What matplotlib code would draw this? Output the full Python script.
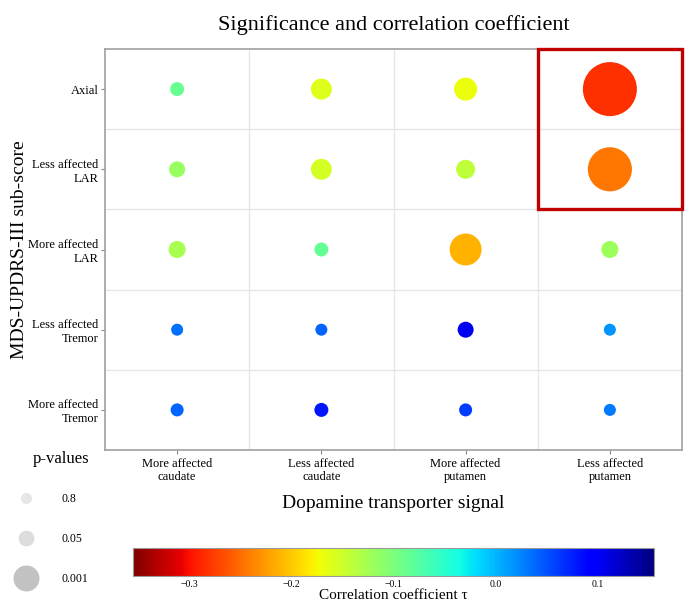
import numpy as np
import matplotlib
matplotlib.use('Agg')
import matplotlib.pyplot as plt
from matplotlib.patches import Rectangle
from matplotlib.lines import Line2D

plt.rcParams['font.family'] = ['Liberation Serif', 'DejaVu Serif']

# ---------------- data ----------------
x_labels = ['More affected\ncaudate', 'Less affected\ncaudate',
            'More affected\nputamen', 'Less affected\nputamen']
y_labels = ['Axial', 'Less affected\nLAR', 'More affected\nLAR',
            'Less affected\nTremor', 'More affected\nTremor']

# correlation coefficient tau (rows follow y_labels, columns follow x_labels)
tau_axial        = [-0.088, -0.160, -0.169, -0.282]
tau_less_lar     = [-0.117, -0.154, -0.141, -0.244]
tau_more_lar     = [-0.126, -0.086, -0.212, -0.120]
tau_less_tremor  = [0.034, 0.041, 0.104, 0.016]
tau_more_tremor  = [0.041, 0.081, 0.061, 0.031]

# p-values
p_axial        = [0.126, 0.0053, 0.0026, 3.3e-6]
p_less_lar     = [0.044, 0.0055, 0.0115, 1.6e-5]
p_more_lar     = [0.027, 0.126, 2.0e-4, 0.027]
p_less_tremor  = [0.42, 0.42, 0.044, 0.42]
p_more_tremor  = [0.22, 0.126, 0.22, 0.42]

legend_p = [0.8, 0.05, 0.001]
legend_labels = ['0.8', '0.05', '0.001']
legend_colors = ['#e6e6e6', '#dcdcdc', '#c2c2c2']

cbar_ticks = [-0.3, -0.2, -0.1, 0.0, 0.1]
tau_min, tau_max = -0.355, 0.155

DPI = 100
W, H = 685, 603


def p_to_size(p):
    """marker area (pt^2) from p-value"""
    x = -np.log10(np.asarray(p, dtype=float))
    d_px = np.sqrt(115.0 * np.exp(0.59 * x))
    return (d_px * 72.0 / DPI) ** 2


tau = np.array([tau_axial, tau_less_lar, tau_more_lar, tau_less_tremor, tau_more_tremor])
pv = np.array([p_axial, p_less_lar, p_more_lar, p_less_tremor, p_more_tremor])

n_rows, n_cols = tau.shape
cols, rows = np.meshgrid(np.arange(n_cols), np.arange(n_rows))
ypos = (n_rows - 1) - rows  # Axial at the top

fig = plt.figure(figsize=(W / DPI, H / DPI), dpi=DPI)
ax = fig.add_axes([105 / W, 1 - 450 / H, 577 / W, 401 / H])

sc = ax.scatter(cols.ravel(), ypos.ravel(), s=p_to_size(pv.ravel()),
                c=tau.ravel(), cmap='jet_r', vmin=tau_min, vmax=tau_max,
                edgecolors='none', zorder=3)

ax.set_xlim(-0.5, n_cols - 0.5)
ax.set_ylim(-0.5, n_rows - 0.5)
ax.set_xticks(np.arange(n_cols))
ax.set_xticklabels(x_labels, fontsize=9)
ax.set_yticks(np.arange(n_rows))
ax.set_yticklabels(y_labels[::-1], fontsize=9, multialignment='right')
ax.set_xticks(np.arange(n_cols - 1) + 0.5, minor=True)
ax.set_yticks(np.arange(n_rows - 1) + 0.5, minor=True)
ax.grid(which='minor', color='#e6e6e6', linewidth=1.0, zorder=0)
ax.grid(which='major', visible=False)
ax.tick_params(which='major', length=3, color='#888888', width=0.8)
ax.tick_params(axis='y', which='major', pad=1.5)
ax.tick_params(axis='x', which='major', pad=2.5)
ax.tick_params(which='minor', length=0)
for sp in ax.spines.values():
    sp.set_color('#a0a0a0')
    sp.set_linewidth(1.2)

ax.set_title('Significance and correlation coefficient', fontsize=16, pad=14)
ax.set_xlabel('Dopamine transporter signal', fontsize=14, labelpad=8)
ax.set_ylabel('MDS-UPDRS-III sub-score', fontsize=14)
ax.yaxis.set_label_coords(-0.133, 0.5)

# highlight box
box = Rectangle((2.5, 2.5), 1.0, 2.0, fill=False, edgecolor='#c00000',
                linewidth=2.4, clip_on=False, zorder=5)
ax.add_patch(box)

# p-value legend
handles = [Line2D([], [], linestyle='none', marker='o',
                  markersize=np.sqrt(p_to_size(p)), markerfacecolor=c,
                  markeredgecolor='none')
           for p, c in zip(legend_p, legend_colors)]
leg = fig.legend(handles, legend_labels, loc='upper left',
                 bbox_to_anchor=(0.0, 1 - 479 / H), frameon=False,
                 fontsize=8.5, labelspacing=2.36,
                 handletextpad=2.05, borderpad=0.7, borderaxespad=0.5)
fig.text(61 / W, 1 - 459 / H, 'p-values', fontsize=12, ha='center', va='center')

# colorbar
cax = fig.add_axes([133 / W, 1 - 576 / H, 521 / W, 28 / H])
cb = fig.colorbar(sc, cax=cax, orientation='horizontal', ticks=cbar_ticks)
cb.ax.tick_params(labelsize=7, length=0, pad=3)
cb.outline.set_edgecolor('#999999')
cb.set_label('Correlation coefficient τ', fontsize=11, labelpad=0)

fig.savefig('out.png', dpi=DPI)
